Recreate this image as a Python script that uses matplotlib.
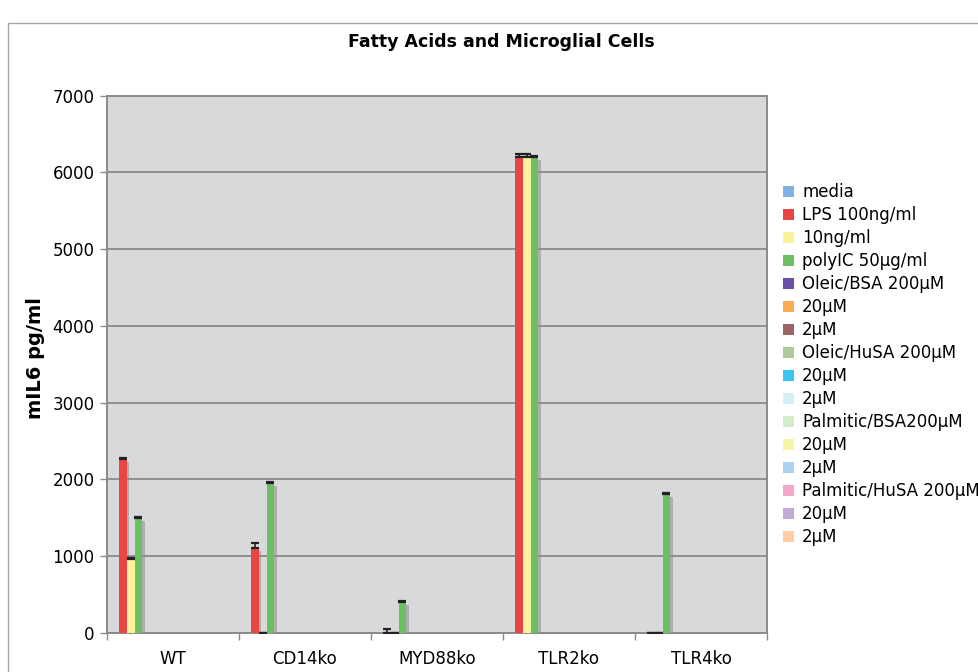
import matplotlib
matplotlib.use("Agg")
import matplotlib.pyplot as plt
import matplotlib.patheffects as pe
from matplotlib.patches import Rectangle
import numpy as np

plt.rcParams["font.family"] = ["DejaVu Sans"]

# ---- data -------------------------------------------------------------
groups = ["WT", "CD14ko", "MYD88ko", "TLR2ko", "TLR4ko"]

series_labels = [
    "media", "LPS 100ng/ml", "10ng/ml", "polyIC 50µg/ml",
    "Oleic/BSA 200µM", "20µM", "2µM",
    "Oleic/HuSA 200µM", "20µM", "2µM",
    "Palmitic/BSA200µM", "20µM", "2µM",
    "Palmitic/HuSA 200µM", "20µM", "2µM",
]

series_colors = [
    "#7fb3e3", "#e84643", "#fbf39b", "#6cc063",
    "#6a51a6", "#fdac55", "#9e6464",
    "#aec99d", "#3ac6ef", "#d6eef8",
    "#d5ecca", "#f7f4a9", "#acd2f1",
    "#f4a7cb", "#c3aad6", "#fdcda5",
]

media = [0, 0, 0, 0, 0]
lps_100 = [2265, 1105, 0, 6200, 0]
lps_10 = [965, 0, 0, 6200, 0]
polyic = [1495, 1958, 410, 6200, 1815]
oleic_bsa_200 = [0, 0, 0, 0, 0]
oleic_bsa_20 = [0, 0, 0, 0, 0]
oleic_bsa_2 = [0, 0, 0, 0, 0]
oleic_husa_200 = [0, 0, 0, 0, 0]
oleic_husa_20 = [0, 0, 0, 0, 0]
oleic_husa_2 = [0, 0, 0, 0, 0]
palm_bsa_200 = [0, 0, 0, 0, 0]
palm_bsa_20 = [0, 0, 0, 0, 0]
palm_bsa_2 = [0, 0, 0, 0, 0]
palm_husa_200 = [0, 0, 0, 0, 0]
palm_husa_20 = [0, 0, 0, 0, 0]
palm_husa_2 = [0, 0, 0, 0, 0]

# upper error (SEM) for the stimulated series
lps_100_err = [15, 72, 50, 35, 0]
lps_10_err = [15, 0, 0, 35, 0]
polyic_err = [12, 12, 10, 20, 10]

series_values = [
    media, lps_100, lps_10, polyic,
    oleic_bsa_200, oleic_bsa_20, oleic_bsa_2,
    oleic_husa_200, oleic_husa_20, oleic_husa_2,
    palm_bsa_200, palm_bsa_20, palm_bsa_2,
    palm_husa_200, palm_husa_20, palm_husa_2,
]
series_errors = {1: lps_100_err, 2: lps_10_err, 3: polyic_err}

yticks = [0, 1000, 2000, 3000, 4000, 5000, 6000, 7000]

# ---- figure -----------------------------------------------------------
W, H = 979, 672
fig = plt.figure(figsize=(W / 100, H / 100), dpi=100)
fig.patch.set_facecolor("white")

# outer chart frame
fig.add_artist(Rectangle((8 / W, -0.1), 1.2, 1 - 23 / H + 0.1,
                         transform=fig.transFigure, fill=False,
                         edgecolor="#a6a6a6", linewidth=1.0))

ax_l, ax_r, ax_t, ax_b = 107, 767, 95.7, 633
ax = fig.add_axes([ax_l / W, 1 - ax_b / H, (ax_r - ax_l) / W, (ax_b - ax_t) / H])
ax.set_facecolor("#d8d9db")

n_series = len(series_values)
group_width = 123 / 132
bar_w = group_width / n_series
x = np.arange(len(groups))

shadow = [pe.SimplePatchShadow(offset=(1.8, -2.2), shadow_rgbFace="#8c8c8c",
                               alpha=0.55), pe.Normal()]

handles = []
for i, (vals, col) in enumerate(zip(series_values, series_colors)):
    left = x - group_width / 2 + i * bar_w
    bars = ax.bar(left, vals, width=bar_w, align="edge", color=col,
                  linewidth=0, zorder=3)
    for b in bars:
        b.set_path_effects(shadow)
    handles.append(bars)
    if i in series_errors:
        err = series_errors[i]
        ax.errorbar(left + bar_w / 2, vals, yerr=[np.zeros(len(err)), err],
                    fmt="none", ecolor="#222222", elinewidth=1.2,
                    capsize=2.9, capthick=1.6, zorder=4)

ax.set_xlim(-0.5, len(groups) - 0.5)
ax.set_ylim(0, 7000)
ax.set_yticks(yticks)
ax.set_yticklabels([str(v) for v in yticks], fontsize=12)
ax.yaxis.grid(True, color="#8a8a8a", linewidth=1.3, zorder=1)
ax.set_axisbelow(True)

ax.set_xticks(x)
ax.set_xticklabels(groups, fontsize=12)
ax.tick_params(axis="x", length=0, pad=12)
ax.set_xticks(np.arange(len(groups) + 1) - 0.5, minor=True)
ax.tick_params(axis="x", which="minor", length=5, color="#8a8a8a", width=1)
ax.tick_params(axis="y", length=5, color="#8a8a8a", width=1, pad=4)

for side, sp in ax.spines.items():
    sp.set_color("#8a8a8a")
    sp.set_linewidth(1.4)

ax.set_ylabel("mIL6 pg/ml", fontsize=14, fontweight="bold")
ax.yaxis.set_label_coords((45 - ax_l) / (ax_r - ax_l), (ax_b - 358) / (ax_b - ax_t))

fig.text(501 / W, 1 - 42 / H, "Fatty Acids and Microglial Cells",
         ha="center", va="center", fontsize=12.5, fontweight="bold")

leg = fig.legend(handles, series_labels, loc="upper left",
                 bbox_to_anchor=(783 / W, 1 - 183 / H), frameon=False,
                 fontsize=12, handlelength=0.65, handleheight=0.65,
                 handletextpad=0.5, labelspacing=0.30, borderaxespad=0,
                 borderpad=0)
for h in leg.legend_handles:
    h.set_path_effects([])

fig.savefig("out.png", dpi=100)
